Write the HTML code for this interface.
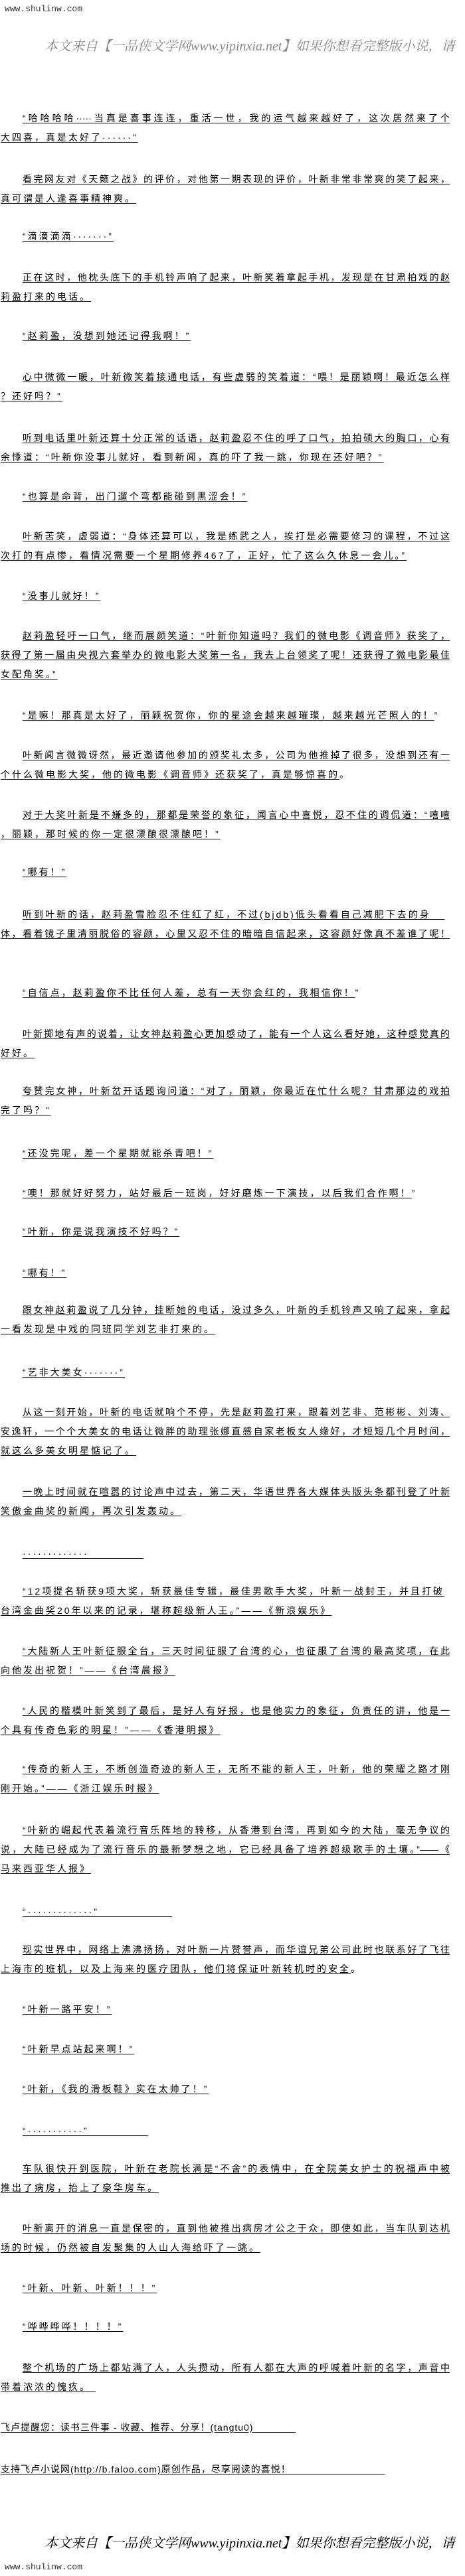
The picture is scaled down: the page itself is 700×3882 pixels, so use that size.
<!DOCTYPE html>
<html><head><meta charset="utf-8">
<style>
html,body{margin:0;padding:0;background:#fff;}
body{width:700px;height:3882px;position:relative;overflow:hidden;font-family:"Liberation Sans","Noto Sans CJK SC",sans-serif;font-size:14px;color:#000;}
.p{position:absolute;left:1px;width:676px;}
.l{display:block;height:29px;line-height:29px;white-space:nowrap;letter-spacing:3px;}
.l span{text-decoration:underline;text-underline-offset:2px;}
.f{text-align:justify;text-align-last:justify;letter-spacing:0;}
.f span{display:inline-block;width:100%;}
.i{padding-left:33px;}
.f.i span{width:643px;}
.hdr{position:absolute;left:7px;font-family:"Liberation Mono",monospace;font-size:13px;color:#333;}
.ban{position:absolute;left:67px;width:633px;overflow:hidden;white-space:nowrap;font-family:"Liberation Serif","Noto Serif CJK SC",serif;font-style:italic;font-size:20px;line-height:30px;}
</style></head><body>
<div class="hdr" style="top:6px">www.shulinw.com</div>
<div class="ban" style="top:55px;color:#888">本文来自【一品侠文学网www.yipinxia.net】如果你想看完整版小说，请</div>

<div class="p" style="top:164px"><div class="l f i"><span>“哈哈哈哈·····当真是喜事连连，重活一世，我的运气越来越好了，这次居然来了个</span></div><div class="l"><span>大四喜，真是太好了······”</span></div></div>
<div class="p" style="top:256px"><div class="l f i"><span>看完网友对《天籁之战》的评价，对他第一期表现的评价，叶新非常非常爽的笑了起来，</span></div><div class="l"><span>真可谓是人逢喜事精神爽。</span></div></div>
<div class="p" style="top:342px"><div class="l i"><span>“滴滴滴滴·······”</span></div></div>
<div class="p" style="top:404px"><div class="l f i"><span>正在这时，他枕头底下的手机铃声响了起来，叶新笑着拿起手机，发现是在甘肃拍戏的赵</span></div><div class="l"><span>莉盈打来的电话。</span></div></div>
<div class="p" style="top:492px"><div class="l i"><span>“赵莉盈，没想到她还记得我啊！”</span></div></div>
<div class="p" style="top:554px"><div class="l f i"><span>心中微微一暖，叶新微笑着接通电话，有些虚弱的笑着道：“喂！是丽颖啊！最近怎么样</span></div><div class="l"><span>？还好吗？”</span></div></div>
<div class="p" style="top:646px"><div class="l f i"><span>听到电话里叶新还算十分正常的话语，赵莉盈忍不住的呼了口气，拍拍硕大的胸口，心有</span></div><div class="l"><span>余悸道：“叶新你没事儿就好，看到新闻，真的吓了我一跳，你现在还好吧？”</span></div></div>
<div class="p" style="top:734px"><div class="l i"><span>“也算是命背，出门遛个弯都能碰到黑涩会！”</span></div></div>
<div class="p" style="top:794px"><div class="l f i"><span>叶新苦笑，虚弱道：“身体还算可以，我是练武之人，挨打是必需要修习的课程，不过这</span></div><div class="l"><span>次打的有点惨，看情况需要一个星期修养467了，正好，忙了这么久休息一会儿。”</span></div></div>
<div class="p" style="top:884px"><div class="l i"><span>“没事儿就好！”</span></div></div>
<div class="p" style="top:944px"><div class="l f i"><span>赵莉盈轻吁一口气，继而展颜笑道：“叶新你知道吗？我们的微电影《调音师》获奖了，</span></div><div class="l f"><span>获得了第一届由央视六套举办的微电影大奖第一名，我去上台领奖了呢！还获得了微电影最佳</span></div><div class="l"><span>女配角奖。”</span></div></div>
<div class="p" style="top:1064px"><div class="l i"><span>“是嘛！那真是太好了，丽颖祝贺你，你的星途会越来越璀璨，越来越光芒照人的！</span>”</div></div>
<div class="p" style="top:1124px"><div class="l f i"><span>叶新闻言微微讶然，最近邀请他参加的颁奖礼太多，公司为他推掉了很多，没想到还有一</span></div><div class="l"><span>个什么微电影大奖，他的微电影《调音师》还获奖了，真是够惊喜的</span>。</div></div>
<div class="p" style="top:1214px"><div class="l f i"><span>对于大奖叶新是不嫌多的，那都是荣誉的象征，闻言心中喜悦，忍不住的调侃道：“嘻嘻</span></div><div class="l"><span>，丽颖，那时候的你一定很漂酿很漂酿吧！”</span></div></div>
<div class="p" style="top:1300px"><div class="l i"><span>“哪有！”</span></div></div>
<div class="p" style="top:1364px"><div class="l i"><span>听到叶新的话，赵莉盈雪脸忍不住红了红，不过(bjdb)低头看看自己减肥下去的身&nbsp;&nbsp;&nbsp;</span></div><div class="l f"><span>体，看着镜子里清丽脱俗的容颜，心里又忍不住的暗暗自信起来，这容颜好像真不差谁了呢！</span></div></div>
<div class="p" style="top:1482px"><div class="l i"><span>“自信点，赵莉盈你不比任何人差，总有一天你会红的，我相信你！</span>”</div></div>
<div class="p" style="top:1544px"><div class="l f i"><span>叶新掷地有声的说着，让女神赵莉盈心更加感动了，能有一个人这么看好她，这种感觉真的</span></div><div class="l"><span>好好。</span></div></div>
<div class="p" style="top:1630px"><div class="l f i"><span>夸赞完女神，叶新岔开话题询问道：“对了，丽颖，你最近在忙什么呢？甘肃那边的戏拍</span></div><div class="l"><span>完了吗？”</span></div></div>
<div class="p" style="top:1724px"><div class="l i"><span>“还没完呢，差一个星期就能杀青吧！”</span></div></div>
<div class="p" style="top:1784px"><div class="l i"><span>“噢！那就好好努力，站好最后一班岗，好好磨炼一下演技，以后我们合作啊！</span>”</div></div>
<div class="p" style="top:1842px"><div class="l i"><span>“叶新，你是说我演技不好吗？”</span></div></div>
<div class="p" style="top:1904px"><div class="l i"><span>“哪有！”</span></div></div>
<div class="p" style="top:1960px"><div class="l f i"><span>跟女神赵莉盈说了几分钟，挂断她的电话，没过多久，叶新的手机铃声又响了起来，拿起</span></div><div class="l"><span>一看发现是中戏的同班同学刘艺非打来的。</span></div></div>
<div class="p" style="top:2054px"><div class="l i"><span>“艺非大美女·······”</span></div></div>
<div class="p" style="top:2114px"><div class="l f i"><span>从这一刻开始，叶新的电话就响个不停，先是赵莉盈打来，跟着刘艺非、范彬彬、刘涛、</span></div><div class="l f"><span>安逸轩，一个个大美女的电话让微胖的助理张娜直感自家老板女人缘好，才短短几个月时间，</span></div><div class="l"><span>就这么多美女明星惦记了。</span></div></div>
<div class="p" style="top:2234px"><div class="l f i"><span>一晚上时间就在喧嚣的讨论声中过去，第二天，华语世界各大媒体头版头条都刊登了叶新</span></div><div class="l"><span>笑傲金曲奖的新闻，再次引发轰动。</span></div></div>
<div class="p" style="top:2327px"><div class="l i"><span>·············&nbsp;&nbsp;&nbsp;&nbsp;&nbsp;&nbsp;&nbsp;&nbsp;&nbsp;&nbsp;&nbsp;&nbsp;</span></div></div>
<div class="p" style="top:2384px"><div class="l i"><span>“12项提名斩获9项大奖，斩获最佳专辑，最佳男歌手大奖，叶新一战封王，并且打破</span></div><div class="l"><span>台湾金曲奖20年以来的记录，堪称超级新人王。”——《新浪娱乐》</span></div></div>
<div class="p" style="top:2474px"><div class="l f i"><span>“大陆新人王叶新征服全台，三天时间征服了台湾的心，也征服了台湾的最高奖项，在此</span></div><div class="l"><span>向他发出祝贺！”——《台湾晨报》</span></div></div>
<div class="p" style="top:2564px"><div class="l f i"><span>“人民的楷模叶新笑到了最后，是好人有好报，也是他实力的象征，负责任的讲，他是一</span></div><div class="l"><span>个具有传奇色彩的明星！”——《香港明报》</span></div></div>
<div class="p" style="top:2652px"><div class="l f i"><span>“传奇的新人王，不断创造奇迹的新人王，无所不能的新人王，叶新，他的荣耀之路才刚</span></div><div class="l"><span>刚开始。”——《浙江娱乐时报》</span></div></div>
<div class="p" style="top:2744px"><div class="l f i"><span>“叶新的崛起代表着流行音乐阵地的转移，从香港到台湾，再到如今的大陆，毫无争议的</span></div><div class="l f"><span>说，大陆已经成为了流行音乐的最新梦想之地，它已经具备了培养超级歌手的土壤。”——《</span></div><div class="l"><span>马来西亚华人报》</span></div></div>
<div class="p" style="top:2867px"><div class="l i"><span>“·············”&nbsp;&nbsp;&nbsp;&nbsp;&nbsp;&nbsp;&nbsp;&nbsp;&nbsp;&nbsp;&nbsp;&nbsp;&nbsp;&nbsp;&nbsp;&nbsp;</span></div></div>
<div class="p" style="top:2924px"><div class="l f i"><span>现实世界中，网络上沸沸扬扬，对叶新一片赞誉声，而华谊兄弟公司此时也联系好了飞往</span></div><div class="l"><span>上海市的班机，以及上海来的医疗团队，他们将保证叶新转机时的安全</span>。</div></div>
<div class="p" style="top:3014px"><div class="l i"><span>“叶新一路平安！”</span></div></div>
<div class="p" style="top:3074px"><div class="l i"><span>“叶新早点站起来啊！”</span></div></div>
<div class="p" style="top:3134px"><div class="l i"><span>“叶新，《我的滑板鞋》实在太帅了！”</span></div></div>
<div class="p" style="top:3197px"><div class="l i"><span>“···········”&nbsp;&nbsp;&nbsp;&nbsp;&nbsp;&nbsp;&nbsp;&nbsp;&nbsp;&nbsp;&nbsp;&nbsp;&nbsp;</span></div></div>
<div class="p" style="top:3254px"><div class="l f i"><span>车队很快开到医院，叶新在老院长满是“不舍”的表情中，在全院美女护士的祝福声中被</span></div><div class="l"><span>推出了病房，抬上了豪华房车。</span></div></div>
<div class="p" style="top:3344px"><div class="l f i"><span>叶新离开的消息一直是保密的，直到他被推出病房才公之于众，即使如此，当车队到达机</span></div><div class="l"><span>场的时候，仍然被自发聚集的人山人海给吓了一跳。</span></div></div>
<div class="p" style="top:3434px"><div class="l i"><span>“叶新、叶新、叶新！！！”</span></div></div>
<div class="p" style="top:3492px"><div class="l i"><span>“哗哗哗哗！！！！”</span></div></div>
<div class="p" style="top:3554px"><div class="l f i"><span>整个机场的广场上都站满了人，人头攒动，所有人都在大声的呼喊着叶新的名字，声音中</span></div><div class="l"><span>带着浓浓的愧疚。&nbsp;</span></div></div>
<div class="p" style="top:3644px"><div class="l" style="letter-spacing:1px"><span>飞卢提醒您：读书三件事 - 收藏、推荐、分享！(tangtu0)&nbsp;&nbsp;&nbsp;&nbsp;&nbsp;&nbsp;&nbsp;&nbsp;&nbsp;&nbsp;&nbsp;&nbsp;&nbsp;</span></div></div>
<div class="p" style="top:3707px"><div class="l" style="letter-spacing:1px"><span>支持飞卢小说网(http://b.faloo.com)原创作品，尽享阅读的喜悦！&nbsp;&nbsp;&nbsp;&nbsp;&nbsp;&nbsp;&nbsp;&nbsp;&nbsp;&nbsp;&nbsp;&nbsp;&nbsp;&nbsp;&nbsp;&nbsp;&nbsp;&nbsp;&nbsp;&nbsp;&nbsp;&nbsp;&nbsp;&nbsp;&nbsp;&nbsp;&nbsp;&nbsp;&nbsp;</span></div></div>
<div class="ban" style="top:3818px;color:#000">本文来自【一品侠文学网www.yipinxia.net】如果你想看完整版小说，请</div>
<div class="hdr" style="top:3861px">www.shulinw.com</div>
</body></html>
